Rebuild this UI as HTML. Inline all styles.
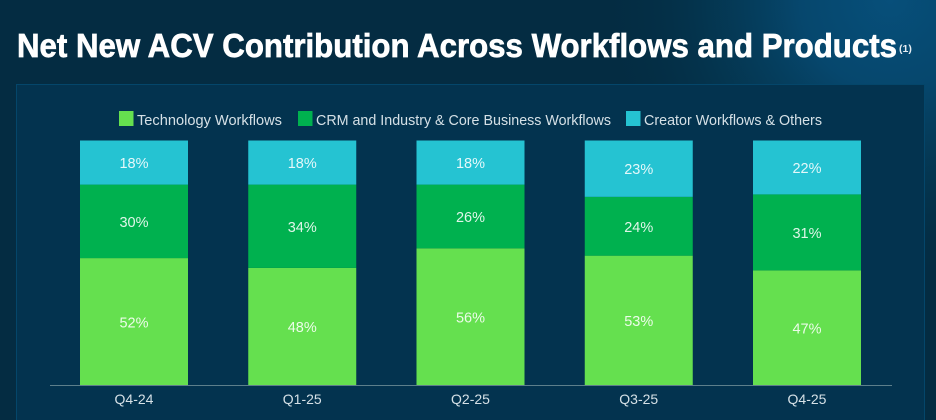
<!DOCTYPE html>
<html lang="en">
<head>
<meta charset="utf-8">
<title>Net New ACV Contribution</title>
<style>
html,body{margin:0;padding:0;width:936px;height:420px;overflow:hidden;background:#042c42}
svg{display:block;font-family:"Liberation Sans",sans-serif}
</style>
</head>
<body>
<svg id="chart" width="936" height="420" viewBox="0 0 936 420" xmlns="http://www.w3.org/2000/svg">
  <defs>
    <radialGradient id="glow" gradientUnits="userSpaceOnUse" cx="890" cy="0" r="300">
      <stop offset="0" stop-color="#074f7a"/>
      <stop offset="0.3" stop-color="#064a72" stop-opacity="0.9"/>
      <stop offset="0.6" stop-color="#05405f" stop-opacity="0.5"/>
      <stop offset="0.85" stop-color="#04344e" stop-opacity="0.15"/>
      <stop offset="1" stop-color="#042c42" stop-opacity="0"/>
    </radialGradient>
  </defs>
  <rect width="936" height="420" fill="#042c42"/>
  <rect width="936" height="420" fill="url(#glow)"/>
  <rect x="16.5" y="84.5" width="908" height="340" fill="#03334f" stroke="#04466a" stroke-width="1"/>
  <text x="17" y="57" font-size="33" font-weight="700" fill="#ffffff" stroke="#ffffff" stroke-width="0.7" textLength="880" lengthAdjust="spacingAndGlyphs">Net New ACV Contribution Across Workflows and Products</text>
  <text x="899" y="52" font-size="10.5" font-weight="700" fill="#e6edf2">(1)</text>
  <g id="legend"></g>
  <g id="bars"></g>
  <line id="axis" x1="50" x2="892" stroke="#5d7f8b" stroke-width="1"></line>
  <g id="xlabels"></g>
</svg>
<script>
const categories = ["Q4-24", "Q1-25", "Q2-25", "Q3-25", "Q4-25"];
const technologyWorkflows = [52, 48, 56, 53, 47];
const crmIndustryCoreWorkflows = [30, 34, 26, 24, 31];
const creatorWorkflowsOthers = [18, 18, 18, 23, 22];
const seriesNames = ["Technology Workflows", "CRM and Industry & Core Business Workflows", "Creator Workflows & Others"];

const NS = "http://www.w3.org/2000/svg";
const seriesValues = [technologyWorkflows, crmIndustryCoreWorkflows, creatorWorkflowsOthers];
const seriesColors = ["#65e04f", "#00b14f", "#25c3d2"];

const axisBottom = 385.5;
const axisTop = 140.5;
const plotLeft = 50;
const plotRight = 892;
const barWidth = 108;
const firstCenter = 134;
const lastCenter = 807;

function xCenter(i) {
  return firstCenter + (lastCenter - firstCenter) * i / (categories.length - 1);
}
function yScale(v) {
  return axisBottom - (axisBottom - axisTop) * v / 100;
}
function make(tag, attrs) {
  const el = document.createElementNS(NS, tag);
  for (const k in attrs) el.setAttribute(k, attrs[k]);
  return el;
}

const barsGroup = document.getElementById("bars");
categories.forEach(function (cat, i) {
  let cum = 0;
  seriesValues.forEach(function (vals, s) {
    const v = vals[i];
    const y0 = yScale(cum);
    const y1 = yScale(cum + v);
    const rect = make("rect", {
      x: xCenter(i) - barWidth / 2,
      y: y1,
      width: barWidth,
      height: y0 - y1,
      fill: seriesColors[s]
    });
    
    
    barsGroup.appendChild(rect);
    const label = make("text", {
      x: xCenter(i),
      y: (y0 + y1) / 2 + 5.5,
      "font-size": "14.5",
      fill: "#ffffff",
      "fill-opacity": "0.88",
      "text-anchor": "middle"
    });
    
    
    label.textContent = v + "%";
    barsGroup.appendChild(label);
    cum += v;
  });
});

const axis = document.getElementById("axis");
axis.setAttribute("y1", axisBottom);
axis.setAttribute("y2", axisBottom);
axis.setAttribute("x1", plotLeft);
axis.setAttribute("x2", plotRight);

const xLabels = document.getElementById("xlabels");
categories.forEach(function (cat, i) {
  const t = make("text", {
    x: xCenter(i),
    y: 404,
    "font-size": "14",
    fill: "#d5e0e6",
    "text-anchor": "middle"
  });
  
  
  t.textContent = cat;
  xLabels.appendChild(t);
});

const legendSwatchX = [119, 298, 626];
const legendTextWidth = [145, 295, 178];
const legend = document.getElementById("legend");
seriesNames.forEach(function (name, s) {
  const sw = make("rect", {
    x: legendSwatchX[s],
    y: 111,
    width: 14.5,
    height: 15,
    fill: seriesColors[s]
  });
  
  
  legend.appendChild(sw);
  const t = make("text", {
    x: legendSwatchX[s] + 18,
    y: 125,
    "font-size": "14.5",
    fill: "#d5e0e6",
    textLength: legendTextWidth[s],
    lengthAdjust: "spacingAndGlyphs"
  });
  
  
  t.textContent = name;
  legend.appendChild(t);
});
</script>
</body>
</html>
